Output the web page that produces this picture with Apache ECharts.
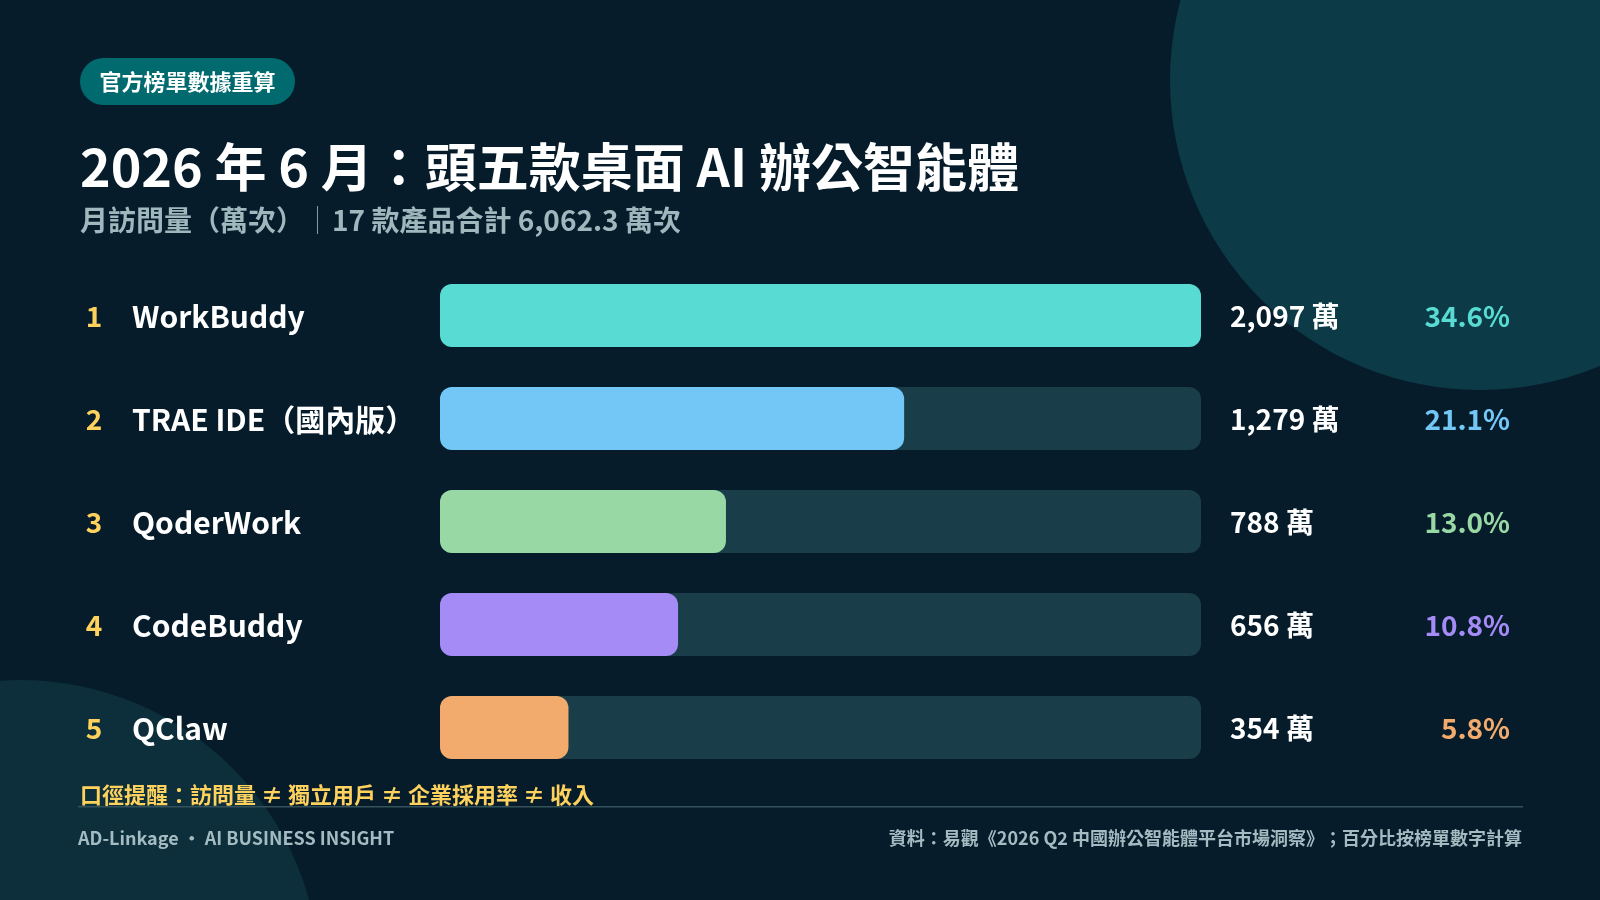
<!DOCTYPE html>
<html>
<head>
<meta charset="utf-8">
<title>頭五款桌面 AI 辦公智能體</title>
<script src="https://cdn.jsdelivr.net/npm/echarts@6/dist/echarts.min.js"></script>
<style>
  html, body { margin: 0; padding: 0; background: #061c2b; }
  #chart { width: 1600px; height: 900px; }
</style>
</head>
<body>
<div id="chart"></div>
<script>
var ranks = ['1', '2', '3', '4', '5'];
var products = ['WorkBuddy', 'TRAE IDE（國內版）', 'QoderWork', 'CodeBuddy', 'QClaw'];
var visits = [2097, 1279, 788, 656, 354];
var visitLabels = ['2,097 萬', '1,279 萬', '788 萬', '656 萬', '354 萬'];
var shares = ['34.6%', '21.1%', '13.0%', '10.8%', '5.8%'];
var barColors = ['#58dbd2', '#72c7f7', '#98d8a5', '#a48bf6', '#f2ab6c'];

var FONT = '"Noto Sans CJK TC", "Noto Sans", sans-serif';
var maxVisit = visits[0];

function txt(x, y, text, size, color, weight, align) {
  return {
    type: 'text', x: x, y: y, z: 5,
    style: {
      text: text, fontFamily: FONT, fontSize: size, fontWeight: weight || 'bold',
      fill: color, align: align || 'left', verticalAlign: 'middle'
    }
  };
}

// one rich style per share label, coloured like its bar
var shareRich = {};
barColors.forEach(function (c, i) {
  shareRich['p' + i] = { padding: [2, 0, 0, 0], fontFamily: FONT, fontSize: 28, fontWeight: 'bold', color: c };
});

var chart = echarts.init(document.getElementById('chart'));

chart.setOption({
  backgroundColor: '#061c2b',
  animation: false,
  grid: { left: 440, top: 264, width: 761, height: 515, containLabel: false },
  xAxis: { type: 'value', min: 0, max: maxVisit, show: false },
  yAxis: [
    {
      type: 'category', inverse: true, data: products,
      axisLine: { show: false }, axisTick: { show: false },
      axisLabel: {
        margin: 360, align: 'left', fontFamily: FONT,
        formatter: function (v, i) { return '{r|' + ranks[i] + '}{n|' + v + '}'; },
        rich: {
          r: { width: 28, align: 'center', padding: [2, 0, 0, 0], fontFamily: FONT, fontSize: 28, fontWeight: 'bold', color: '#ffd25e' },
          n: { padding: [2, 0, 0, 24], fontFamily: FONT, fontSize: 30, fontWeight: 'bold', color: '#ffffff' }
        }
      }
    },
    {
      type: 'category', inverse: true, position: 'right', data: shares,
      axisLine: { show: false }, axisTick: { show: false },
      axisLabel: {
        margin: 309, align: 'right',
        formatter: function (v, i) { return '{p' + i + '|' + v + '}'; },
        rich: shareRich
      }
    }
  ],
  series: [
    {
      type: 'bar', barWidth: 63, barGap: '-100%', silent: true,
      data: visits.map(function () { return maxVisit; }),
      itemStyle: { color: '#193e49', borderRadius: 12 },
      label: {
        show: true, position: 'right', distance: 29, offset: [0, 1],
        formatter: function (p) { return visitLabels[p.dataIndex]; },
        fontFamily: FONT, fontSize: 28, fontWeight: 'bold', color: '#ffffff'
      }
    },
    {
      type: 'bar', barWidth: 63, barGap: '-100%',
      data: visits.map(function (v, i) { return { value: v, itemStyle: { color: barColors[i] } }; }),
      itemStyle: { borderRadius: 12 }
    }
  ],
  graphic: [
    { type: 'circle', z: -10, shape: { cx: 1480, cy: 80, r: 310 }, style: { fill: '#0c3a47' } },
    { type: 'circle', z: -10, shape: { cx: 20, cy: 980, r: 300 }, style: { fill: '#0c2f3b' } },
    { type: 'rect', z: 1, shape: { x: 80, y: 58, width: 215, height: 47, r: 23.5 }, style: { fill: '#006a6f' } },
    txt(187.5, 82, '官方榜單數據重算', 22, '#ffffff', 'bold', 'center'),
    txt(80, 167, '2026 年 6 月：頭五款桌面 AI 辦公智能體', 52, '#ffffff'),
    txt(80, 220, '月訪問量（萬次）', 28, '#9fb8bd'),
    { type: 'rect', z: 1, shape: { x: 317, y: 206, width: 1, height: 28 }, style: { fill: '#7f9aa0' } },
    txt(332, 220, '17 款產品合計 6,062.3 萬次', 28, '#9fb8bd'),
    txt(80, 795, '口徑提醒：訪問量 ≠ 獨立用戶 ≠ 企業採用率 ≠ 收入', 22, '#ffd25e'),
    { type: 'rect', z: 1, shape: { x: 78, y: 806, width: 1445, height: 1.5 }, style: { fill: '#33525b' } },
    txt(78, 838, 'AD-Linkage • AI BUSINESS INSIGHT', 18, '#a4bcc1'),
    txt(1522, 838, '資料：易觀《2026 Q2 中國辦公智能體平台市場洞察》；百分比按榜單數字計算', 18, '#a4bcc1', 'bold', 'right')
  ]
});
</script>
</body>
</html>
